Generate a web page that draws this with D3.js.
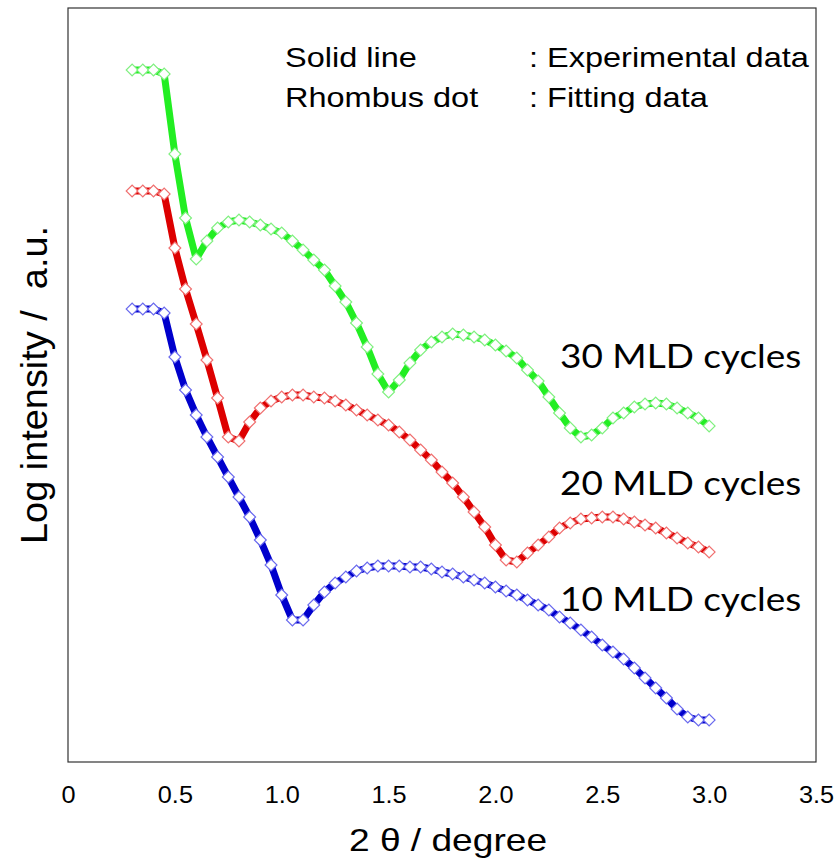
<!DOCTYPE html>
<html><head><meta charset="utf-8">
<script src="https://cdn.jsdelivr.net/npm/d3@7"></script>
<style>body{margin:0;background:#fff}svg{display:block}</style>
</head><body>
<svg id="chart" width="839" height="862"></svg>
<script>
// 2θ (degree) sampling of experimental/fitting data
const twoTheta = d3.range(55).map(i => +(0.30 + i * 0.05).toFixed(2));
// log intensity (a.u., offset for clarity)
const cycles30 = [6.92,6.92,6.92,6.88,6.08,5.44,5.03,5.21,5.34,5.40,5.42,5.40,5.37,5.33,5.29,
  5.21,5.12,5.02,4.92,4.76,4.60,4.39,4.15,3.88,3.70,3.82,3.99,4.12,4.20,4.25,4.28,4.27,4.25,4.22,4.17,
  4.11,4.04,3.92,3.81,3.65,3.49,3.34,3.25,3.27,3.34,3.44,3.49,3.55,3.58,3.59,3.58,3.54,3.49,3.44,3.36];
const cycles20 = [5.71,5.71,5.71,5.68,5.14,4.73,4.38,4.02,3.64,3.25,3.21,3.40,3.54,3.61,3.65,
  3.67,3.67,3.65,3.64,3.61,3.57,3.52,3.47,3.42,3.37,3.30,3.22,3.12,3.02,2.90,2.79,2.65,2.50,2.35,2.17,
  2.02,2.00,2.09,2.17,2.25,2.34,2.39,2.43,2.44,2.45,2.45,2.43,2.40,2.37,2.34,2.29,2.24,2.19,2.15,2.10];
const cycles10 = [4.53,4.53,4.53,4.49,4.05,3.72,3.47,3.25,3.05,2.85,2.65,2.45,2.22,1.97,1.67,1.42,1.42,1.57,
  1.70,1.79,1.85,1.91,1.94,1.96,1.96,1.96,1.95,1.95,1.93,1.90,1.88,1.85,1.82,1.79,1.75,1.71,1.67,1.62,
  1.57,1.52,1.45,1.39,1.32,1.25,1.17,1.10,1.03,0.94,0.84,0.74,0.64,0.53,0.45,0.42,0.42];
const seriesNames = ["30 MLD cycles","20 MLD cycles","10 MLD cycles"];
const xTicks = [0,0.5,1.0,1.5,2.0,2.5,3.0,3.5];
const xTickLabels = ["0","0.5","1.0","1.5","2.0","2.5","3.0","3.5"];

const lineColors = ["#22ee22","#dd0000","#0000cc"];
const markColors = ["#80f080","#f07070","#6a6aee"];
const labelY = [3.94, 2.67, 1.51];

const STRETCH = 1.16; // horizontal widening of glyphs seen in the reference
const ARIAL = "Liberation Sans, Arial, sans-serif";
function widen(sel, k = STRETCH) {
  sel.each(function () {
    const w = this.getComputedTextLength();
    d3.select(this).attr("textLength", w * k).attr("lengthAdjust", "spacingAndGlyphs");
  });
  return sel;
}

const svg = d3.select("#chart");
const L = 68, R = 816, T = 8, B = 762;
const x = d3.scaleLinear().domain([0, 3.5]).range([L, R]);
const y = d3.scaleLinear().domain([0, 7.54]).range([B, T]);

svg.append("rect").attr("x", L).attr("y", T).attr("width", R - L).attr("height", B - T)
  .attr("fill", "none").attr("stroke", "#333").attr("stroke-width", 1.2);

const xAxis = d3.axisBottom(x).tickValues(xTicks).tickSize(0).tickPadding(0)
  .tickFormat((d, i) => xTickLabels[i]);
const gx = svg.append("g").attr("transform", `translate(0,${B + 25})`).call(xAxis);
gx.select(".domain").remove();
gx.selectAll("text").attr("font-family", ARIAL).attr("font-size", 23)
  .attr("fill", "#000").attr("dy", "0.71em");
widen(gx.selectAll("text"), 1.1);

widen(svg.append("text").attr("x", 448).attr("y", 851).attr("text-anchor", "middle")
  .attr("font-family", ARIAL).attr("font-size", 32).text("2 θ / degree"));
svg.append("text").attr("transform", "translate(47,385) rotate(-90)").attr("text-anchor", "middle")
  .attr("font-family", ARIAL).attr("font-size", 36).style("white-space", "pre")
  .attr("textLength", 318).attr("lengthAdjust", "spacingAndGlyphs")
  .text("Log intensity /  a.u.");

const allSeries = [cycles30, cycles20, cycles10];
const line = d3.line().x(d => x(d[0])).y(d => y(d[1]));

allSeries.forEach((vals, si) => {
  const pts = twoTheta.map((t, i) => [t, vals[i]]);
  svg.append("path").datum(pts).attr("d", line).attr("fill", "none")
    .attr("stroke", lineColors[si]).attr("stroke-width", 7).attr("stroke-linejoin", "round");
  svg.append("g").selectAll("path").data(pts).join("path")
    .attr("transform", d => `translate(${x(d[0])},${y(d[1])}) rotate(45)`)
    .attr("d", d3.symbol().type(d3.symbolSquare).size(70))
    .attr("fill", "#fff").attr("stroke", markColors[si]).attr("stroke-width", 1.2);
  widen(svg.append("text").attr("x", 560).attr("y", y(labelY[si]))
    .attr("font-family", "Lato, 'Open Sans', sans-serif").attr("font-size", 33)
    .attr("fill", "#000").text(seriesNames[si]), 1.12);
});

const legend = [["Solid line", ": Experimental data"], ["Rhombus dot", ": Fitting data"]];
legend.forEach((row, i) => {
  widen(svg.append("text").attr("x", 285).attr("y", 67 + i * 40)
    .attr("font-family", ARIAL).attr("font-size", 28).text(row[0]));
  widen(svg.append("text").attr("x", 529).attr("y", 67 + i * 40)
    .attr("font-family", ARIAL).attr("font-size", 28).text(row[1]));
});
</script>
</body></html>
